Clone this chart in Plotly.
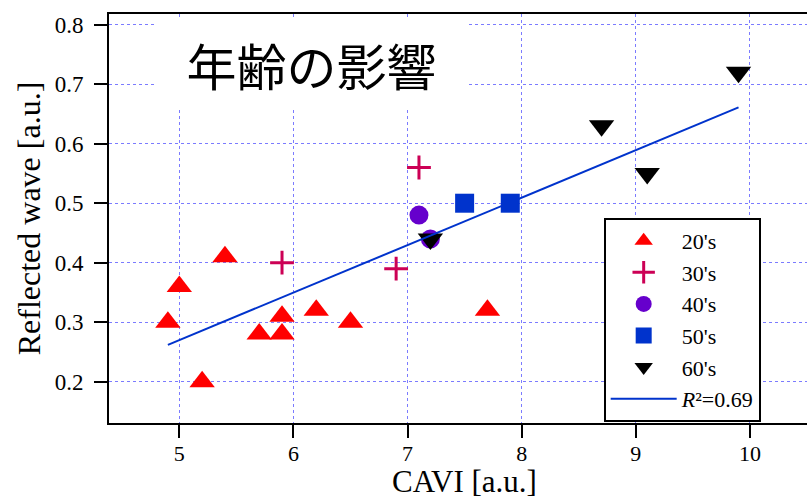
import plotly.graph_objects as go

# CAVI vs reflected wave, grouped by age decade
x_20s = [4.9, 5.0, 5.2, 5.4, 5.7, 5.9, 5.9, 6.2, 6.5, 7.7]
y_20s = [0.30, 0.36, 0.20, 0.41, 0.28, 0.31, 0.28, 0.32, 0.30, 0.32]

x_30s = [5.9, 6.9, 7.1]
y_30s = [0.40, 0.39, 0.56]

x_40s = [7.1, 7.2]
y_40s = [0.48, 0.44]

x_50s = [7.5, 7.9]
y_50s = [0.50, 0.50]

x_60s = [7.2, 8.7, 9.1, 9.9]
y_60s = [0.44, 0.63, 0.55, 0.72]

# linear regression line (end points)
fit_x = [4.9, 9.9]
fit_y = [0.262, 0.661]
r2_label = "<i>R</i>²=0.69"

x_ticks = [5, 6, 7, 8, 9, 10]
y_ticks = [0.2, 0.3, 0.4, 0.5, 0.6, 0.7, 0.8]

serif = "Liberation Serif, Times New Roman, serif"

fig = go.Figure()

fig.add_trace(go.Scatter(
    x=x_20s, y=y_20s, mode="markers", name="20's", legendrank=1,
    marker=dict(symbol="triangle-up", size=22, color="#ff0000"),
))
fig.add_trace(go.Scatter(
    x=x_30s, y=y_30s, mode="markers", name="30's", legendrank=2,
    marker=dict(symbol="cross-thin", size=17, color="#cc0055",
                line=dict(width=3, color="#cc0055")),
))
fig.add_trace(go.Scatter(
    x=x_40s, y=y_40s, mode="markers", name="40's", legendrank=3,
    marker=dict(symbol="circle", size=19, color="#6600cc"),
))
fig.add_trace(go.Scatter(
    x=x_60s, y=y_60s, mode="markers", name="60's", legendrank=5,
    marker=dict(symbol="triangle-down", size=22, color="#000000"),
))
fig.add_trace(go.Scatter(
    x=fit_x, y=fit_y, mode="lines", name=r2_label, legendrank=6,
    line=dict(color="#0033cc", width=2),
))
fig.add_trace(go.Scatter(
    x=x_50s, y=y_50s, mode="markers", name="50's", legendrank=4,
    marker=dict(symbol="square", size=19, color="#0033cc"),
))

axis_common = dict(
    showline=True, linecolor="black", linewidth=2,
    ticks="outside", ticklen=13, tickwidth=2, tickcolor="black",
    showgrid=True, gridcolor="#7b7bff", gridwidth=1, griddash="dot",
    zeroline=False,
)

fig.update_xaxes(
    range=[4.384, 10.50], tickvals=x_ticks, mirror=True,
    ticklabelstandoff=-3,
    tickfont=dict(family=serif, size=22, color="black"),
    **axis_common,
)
fig.update_yaxes(
    range=[0.1306, 0.818], tickvals=y_ticks, tickformat=".1f",
    ticklabelstandoff=6,
    tickfont=dict(family=serif, size=23, color="black"),
    title=dict(text="Reflected wave [a.u.]", font=dict(family=serif, size=32, color="black"),
               standoff=4),
    **axis_common,
)

# x-axis title, set low against the bottom edge
fig.add_annotation(
    text="CAVI [a.u.]", xref="paper", yref="paper", x=0.5086, y=-0.19,
    xanchor="center", yanchor="bottom", showarrow=False,
    font=dict(family=serif, size=31, color="black"),
)

fig.add_annotation(
    text="年齢の影響", xref="paper", yref="paper", x=0.2901, y=0.879,
    xanchor="center", yanchor="middle", showarrow=False,
    width=307, height=87, bgcolor="white",
    font=dict(family="Noto Sans CJK JP", size=50, color="black"),
)

fig.update_layout(
    width=807, height=498,
    margin=dict(l=109, r=0, t=14, b=75, autoexpand=False),
    paper_bgcolor="white", plot_bgcolor="white",
    showlegend=True,
    legend=dict(
        x=0.709, y=0.501, xanchor="left", yanchor="top",
        bgcolor="white", bordercolor="black", borderwidth=1.8,
        font=dict(family=serif, size=22, color="black"),
        itemwidth=66, tracegroupgap=0,
    ),
)

fig.write_html("out.html")
